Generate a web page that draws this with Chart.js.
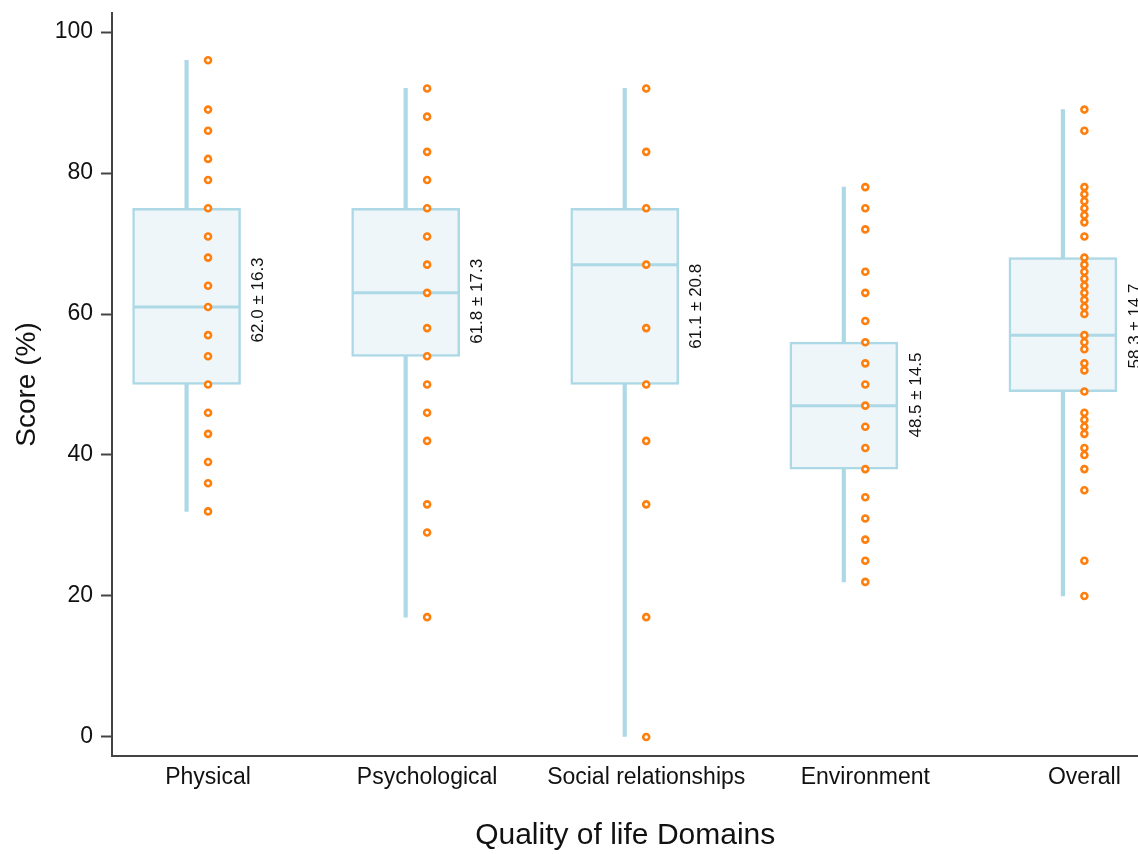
<!DOCTYPE html>
<html>
<head>
<meta charset="utf-8">
<script src="https://cdn.jsdelivr.net/npm/chart.js@4.4.1/dist/chart.umd.min.js"></script>
<style>
  html, body { margin: 0; padding: 0; background: #fff; overflow: hidden; }
  #wrap { width: 1138px; height: 854px; overflow: hidden; }
</style>
</head>
<body>
<div id="wrap"><canvas id="myChart" width="1145" height="854"></canvas></div>
<script>
const categories = ['Physical', 'Psychological', 'Social relationships', 'Environment', 'Overall'];
const lowWhisker = [32, 17, 0, 22, 20];
const q1 = [50, 54, 50, 38, 49];
const median = [61, 63, 67, 47, 57];
const q3 = [75, 75, 75, 56, 68];
const highWhisker = [96, 92, 92, 78, 89];
const means = [62.0, 61.8, 61.1, 48.5, 58.3];
const sds = [16.3, 17.3, 20.8, 14.5, 14.7];
const yTicks = [0, 20, 40, 60, 80, 100];

// individual scores per domain (orange dots)
const physicalScores = [96, 89, 86, 82, 79, 75, 71, 68, 64, 61, 57, 54, 50, 46, 43, 39, 36, 32];
const psychologicalScores = [92, 88, 83, 79, 75, 71, 67, 63, 58, 54, 50, 46, 42, 33, 29, 17];
const socialScores = [92, 83, 75, 67, 58, 50, 42, 33, 17, 0];
const environmentScores = [78, 75, 72, 66, 63, 59, 56, 53, 50, 47, 44, 41, 38, 34, 31, 28, 25, 22];
const overallScores = [89, 86, 78, 77, 76, 75, 74, 73, 71, 68, 67, 66, 65, 64, 63, 62, 61, 60,
    57, 56, 55, 53, 52, 49, 46, 45, 44, 43, 41, 40, 38, 35, 25, 20];
const scoreLists = [physicalScores, psychologicalScores, socialScores, environmentScores, overallScores];

const boxShift = -0.098;   // boxes sit a little left of the dots
const boxBlue = '#add8e6';
const fontFamily = "'Liberation Sans', Arial, sans-serif";

const whiskerData = categories.map((c, i) => ({x: i + 1 + boxShift, y: [lowWhisker[i], highWhisker[i]]}));
const boxData = categories.map((c, i) => ({x: i + 1 + boxShift, y: [q1[i], q3[i]]}));
const dotData = [];
scoreLists.forEach((list, i) => {
    for (const v of list) dotData.push({x: i + 1, y: v});
});

const boxExtras = {
    id: 'boxExtras',
    afterDatasetDraw(chart, args) {
        if (args.index !== 1) return;
        const ctx = chart.ctx;
        const yScale = chart.scales.y;
        const meta = chart.getDatasetMeta(1);
        ctx.save();
        ctx.strokeStyle = boxBlue;
        ctx.lineWidth = 3;
        meta.data.forEach((el, i) => {
            const y = yScale.getPixelForValue(median[i]);
            ctx.beginPath();
            ctx.moveTo(el.x - el.width / 2 + 1, y);
            ctx.lineTo(el.x + el.width / 2 - 1, y);
            ctx.stroke();
        });
        ctx.restore();
    },
    afterDatasetsDraw(chart) {
        const ctx = chart.ctx;
        const yScale = chart.scales.y;
        const meta = chart.getDatasetMeta(1);
        ctx.save();
        ctx.fillStyle = '#111';
        ctx.font = '17px ' + fontFamily;
        ctx.textAlign = 'center';
        ctx.textBaseline = 'middle';
        meta.data.forEach((el, i) => {
            const x = el.x + el.width / 2 + 18;
            const y = yScale.getPixelForValue(means[i]);
            ctx.save();
            ctx.translate(x, y);
            ctx.rotate(-Math.PI / 2);
            ctx.fillText(means[i].toFixed(1) + ' \u00b1 ' + sds[i].toFixed(1), 0, 0);
            ctx.restore();
        });
        ctx.restore();
    }
};

const ctx = document.getElementById('myChart');
new Chart(ctx, {
    type: 'bar',
    data: {
        datasets: [
            {
                label: 'whisker',
                data: whiskerData,
                backgroundColor: boxBlue,
                borderWidth: 0,
                barThickness: 3.5,
                grouped: false,
                order: 3
            },
            {
                label: 'box',
                data: boxData,
                backgroundColor: '#eef6f9',
                borderColor: boxBlue,
                borderWidth: 2.5,
                borderSkipped: false,
                barThickness: 108,
                grouped: false,
                order: 2
            },
            {
                type: 'scatter',
                label: 'scores',
                data: dotData,
                pointStyle: 'circle',
                pointRadius: 3,
                pointBorderWidth: 2.6,
                pointBorderColor: '#ff7f0e',
                pointBackgroundColor: '#ffffff',
                showLine: false,
                order: 1
            }
        ]
    },
    options: {
        responsive: false,
        animation: false,
        layout: {padding: {top: 13, right: 0, bottom: 0, left: 0}},
        plugins: {
            legend: {display: false},
            tooltip: {enabled: false}
        },
        scales: {
            x: {
                type: 'linear',
                min: 0.5616,
                max: 5.2466,
                offset: false,
                afterBuildTicks: (scale) => {
                    scale.ticks = categories.map((c, i) => ({value: i + 1}));
                },
                afterFit: (scale) => {
                    scale.height = 98;
                    scale.paddingLeft = 0;
                    scale.paddingRight = 0;
                },
                grid: {display: false, drawTicks: false},
                border: {display: true, color: '#444', width: 2},
                ticks: {
                    padding: 8,
                    color: '#111',
                    font: {family: fontFamily, size: 23},
                    maxRotation: 0,
                    autoSkip: false,
                    callback: (value) => categories[value - 1]
                },
                title: {
                    display: true,
                    text: 'Quality of life Domains',
                    color: '#111',
                    font: {family: fontFamily, size: 30},
                    padding: {top: 0, bottom: 0}
                }
            },
            y: {
                min: -2.7,
                max: 102.7,
                afterBuildTicks: (scale) => {
                    scale.ticks = yTicks.map(v => ({value: v}));
                },
                afterFit: (scale) => {
                    scale.width = 112;
                    scale.paddingTop = 0;
                    scale.paddingBottom = 0;
                },
                grid: {
                    display: true,
                    drawOnChartArea: false,
                    drawTicks: true,
                    tickLength: 11,
                    tickColor: '#444',
                    tickWidth: 2
                },
                border: {display: true, color: '#444', width: 2},
                ticks: {
                    padding: 8,
                    color: '#111',
                    font: {family: fontFamily, size: 23}
                },
                title: {
                    display: true,
                    text: 'Score (%)',
                    color: '#111',
                    font: {family: fontFamily, size: 28},
                    padding: {top: 10, bottom: 0}
                }
            }
        }
    },
    plugins: [boxExtras]
});
</script>
</body>
</html>
